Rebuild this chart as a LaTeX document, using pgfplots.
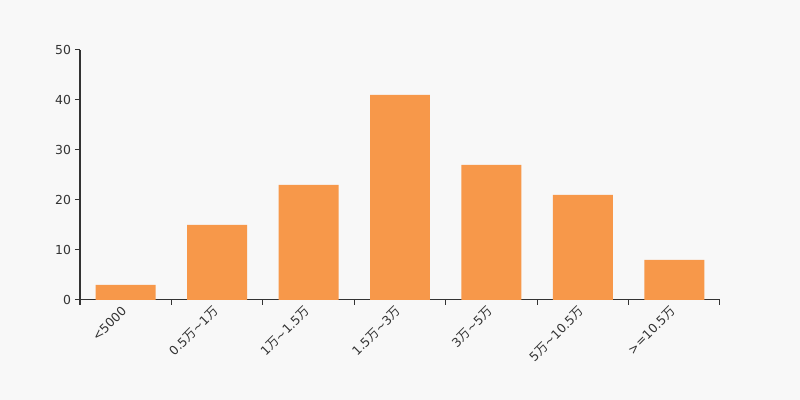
\documentclass[border=0pt]{standalone}
\usepackage{fontspec}
\setmainfont{DejaVu Sans}
\newfontfamily\cjk{Noto Sans CJK SC}
\usepackage{pgfplots}
\pgfplotsset{compat=1.18}
\definecolor{bg}{HTML}{F8F8F8}
\definecolor{bar}{HTML}{F7984A}
\definecolor{axc}{HTML}{333333}
\newcommand{\W}{{\cjk 万}}
\begin{document}
\begin{tikzpicture}[x=1pt,y=1pt]
\fill[bg] (0,0) rectangle (400,200);
\useasboundingbox (0,0) rectangle (400,200);
\begin{axis}[
  at={(40pt,50pt)}, anchor=south west,
  scale only axis, width=320pt, height=125pt,
  xmin=-0.5, xmax=6.5, ymin=0, ymax=50,
  axis x line=bottom, axis y line=left,
  axis line style={-, axc, line width=0.5pt},
  ytick={0,10,...,50},
  xtick={0,...,6},
  xticklabels={{<5000},{0.5\W\textasciitilde1\W},{1\W\textasciitilde1.5\W},{1.5\W\textasciitilde3\W},{3\W\textasciitilde5\W},{5\W\textasciitilde10.5\W},{>=10.5\W}},
  x tick label style={xshift=-2.5pt, yshift=1.5pt, rotate=45, anchor=north east, inner sep=1pt},
  major x tick style={draw=none},
  extra x ticks={-0.5,0.5,...,6.5},
  extra x tick labels={},
  extra x tick style={major x tick style={draw=axc, line width=0.5pt}},
  y tick style={axc, line width=0.5pt},
  major tick length=2.5pt, tick align=outside,
  ticklabel style={font=\fontsize{6.2}{7}\selectfont, text=axc},
  /pgf/number format/assume math mode=true,
  y tick label style={xshift=1.5pt},
  ybar, bar width=0.656,
]
\addplot[fill=bar, draw=none] coordinates {(0,3) (1,15) (2,23) (3,41) (4,27) (5,21) (6,8)};
\end{axis}
\end{tikzpicture}
\end{document}
